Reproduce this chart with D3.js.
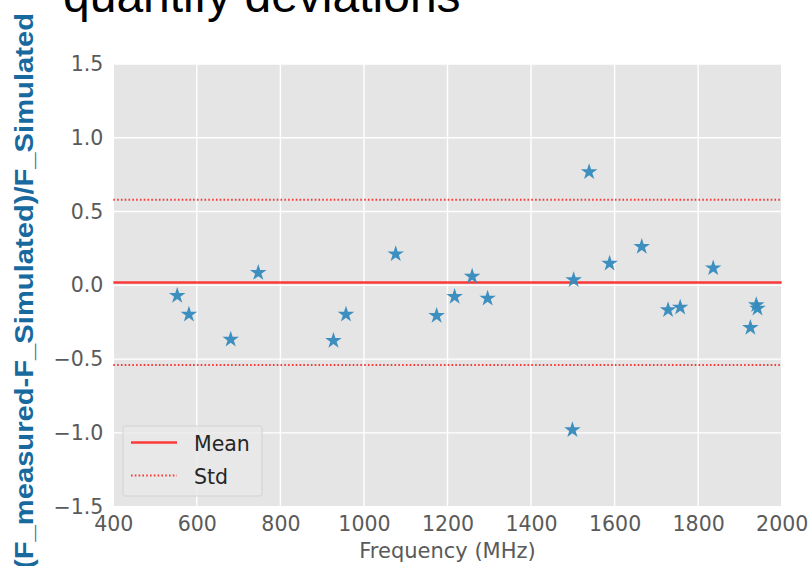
<!DOCTYPE html>
<html>
<head>
<meta charset="utf-8">
<script src="https://cdn.jsdelivr.net/npm/d3@7"></script>
<style>
  html, body { margin: 0; padding: 0; background: #fff; }
  svg { display: block; }
</style>
</head>
<body>
<div id="chart"></div>
<script>
// data
const freqs = [553, 581, 681, 747, 927, 957, 1076, 1174, 1217, 1259, 1296,
  1502, 1499, 1539, 1588, 1665, 1728, 1757, 1836, 1925, 1939, 1942];
const deviations = [-0.07, -0.197, -0.366, 0.085, -0.375, -0.197, 0.212, -0.206, -0.077, 0.061, -0.088,
  0.036, -0.98, 0.768, 0.149, 0.262, -0.167, -0.149, 0.117, -0.287, -0.133, -0.156];
const meanValue = 0.02;
const stdValue = 0.56;
const xTicks = [400, 600, 800, 1000, 1200, 1400, 1600, 1800, 2000];
const yTicks = [-1.5, -1.0, -0.5, 0.0, 0.5, 1.0, 1.5];
const legendLabels = ["Mean", "Std"];

const W = 812, H = 566;
const svg = d3.select("#chart").append("svg")
  .attr("width", W).attr("height", H);

// plot area
const pLeft = 113.3, pRight = 781.7, pTop = 64, pBottom = 506.7;
const x = d3.scaleLinear().domain([400, 2000]).range([pLeft, pRight]);
const y = d3.scaleLinear().domain([-1.5, 1.5]).range([pBottom, pTop]);

// title, cut off at the top like in the slide
svg.append("text")
  .attr("x", 63).attr("y", 12)
  .attr("font-family", "Liberation Sans, Arial, sans-serif")
  .attr("font-size", 48)
  .attr("fill", "#000")
  .text("quantify deviations");

// background
svg.append("rect")
  .attr("x", pLeft).attr("y", pTop)
  .attr("width", pRight - pLeft).attr("height", pBottom - pTop)
  .attr("fill", "#e5e5e5");

// grid
svg.append("g").selectAll("line").data(xTicks).enter().append("line")
  .attr("x1", d => x(d)).attr("x2", d => x(d))
  .attr("y1", pTop).attr("y2", pBottom)
  .attr("stroke", "#fff").attr("stroke-width", 1.4);
svg.append("g").selectAll("line").data(yTicks).enter().append("line")
  .attr("x1", pLeft).attr("x2", pRight)
  .attr("y1", d => y(d)).attr("y2", d => y(d))
  .attr("stroke", "#fff").attr("stroke-width", 1.4);

// axes (labels only, like the ggplot style)
const fmt = d => d3.format(".1f")(d).replace("-", "\u2212");
const yAxis = svg.append("g")
  .attr("transform", `translate(${pLeft - 10},0)`)
  .call(d3.axisLeft(y).tickValues(yTicks).tickFormat(fmt).tickSize(0).tickPadding(0));
const xAxis = svg.append("g")
  .attr("transform", `translate(0,${pBottom + 10})`)
  .call(d3.axisBottom(x).tickValues(xTicks).tickFormat(d3.format("d")).tickSize(0).tickPadding(0));
[yAxis, xAxis].forEach(a => {
  a.select(".domain").remove();
  a.selectAll("text")
    .attr("font-family", "DejaVu Sans, sans-serif")
    .attr("font-size", 20.5)
    .attr("fill", "#5a5a5a");
});
xAxis.selectAll("text").attr("dy", "0.71em");

// axis titles
svg.append("text")
  .attr("x", (pLeft + pRight) / 2).attr("y", 558)
  .attr("text-anchor", "middle")
  .attr("font-family", "DejaVu Sans, sans-serif")
  .attr("font-size", 21)
  .attr("fill", "#5a5a5a")
  .text("Frequency (MHz)");

svg.append("text")
  .attr("transform", "translate(33,291) rotate(-90)")
  .attr("text-anchor", "middle")
  .attr("font-family", "Liberation Sans, Arial, sans-serif")
  .attr("font-weight", "bold")
  .attr("font-size", 26)
  .attr("textLength", 556)
  .attr("lengthAdjust", "spacingAndGlyphs")
  .attr("fill", "#17699e")
  .text("(F_measured-F_Simulated)/F_Simulated");

// mean and std lines
const lines = [
  { v: meanValue, dash: null, w: 2.5 },
  { v: meanValue + stdValue, dash: "1.6,2.2", w: 1.9 },
  { v: meanValue - stdValue, dash: "1.6,2.2", w: 1.9 }
];
svg.append("g").selectAll("line").data(lines).enter().append("line")
  .attr("x1", pLeft).attr("x2", pRight)
  .attr("y1", d => y(d.v)).attr("y2", d => y(d.v))
  .attr("stroke", "#ff1a1a").attr("stroke-opacity", 0.85)
  .attr("stroke-width", d => d.w)
  .attr("stroke-dasharray", d => d.dash);

// stars
const star = d3.symbol().type(d3.symbolStar).size(85);
svg.append("g").selectAll("path").data(freqs).enter().append("path")
  .attr("d", star)
  .attr("transform", (d, i) => `translate(${x(d)},${y(deviations[i])})`)
  .attr("fill", "#348abd").attr("fill-opacity", 0.95);

// legend
const lg = svg.append("g").attr("transform", "translate(123,426)");
lg.append("rect")
  .attr("width", 139).attr("height", 70).attr("rx", 2)
  .attr("fill", "#e8e8e8").attr("fill-opacity", 0.8)
  .attr("stroke", "#d2d2d2").attr("stroke-width", 1);
legendLabels.forEach((lab, i) => {
  const ly = 16.5 + i * 33;
  lg.append("line")
    .attr("x1", 8).attr("x2", 54).attr("y1", ly).attr("y2", ly)
    .attr("stroke", "#ff1a1a").attr("stroke-opacity", 0.85)
    .attr("stroke-width", i === 0 ? 2.5 : 1.9)
    .attr("stroke-dasharray", i === 0 ? null : "1.6,2.2");
  lg.append("text")
    .attr("x", 71).attr("y", ly + 8)
    .attr("font-family", "DejaVu Sans, sans-serif")
    .attr("font-size", 20.5)
    .attr("fill", "#262626")
    .text(lab);
});
</script>
</body>
</html>
